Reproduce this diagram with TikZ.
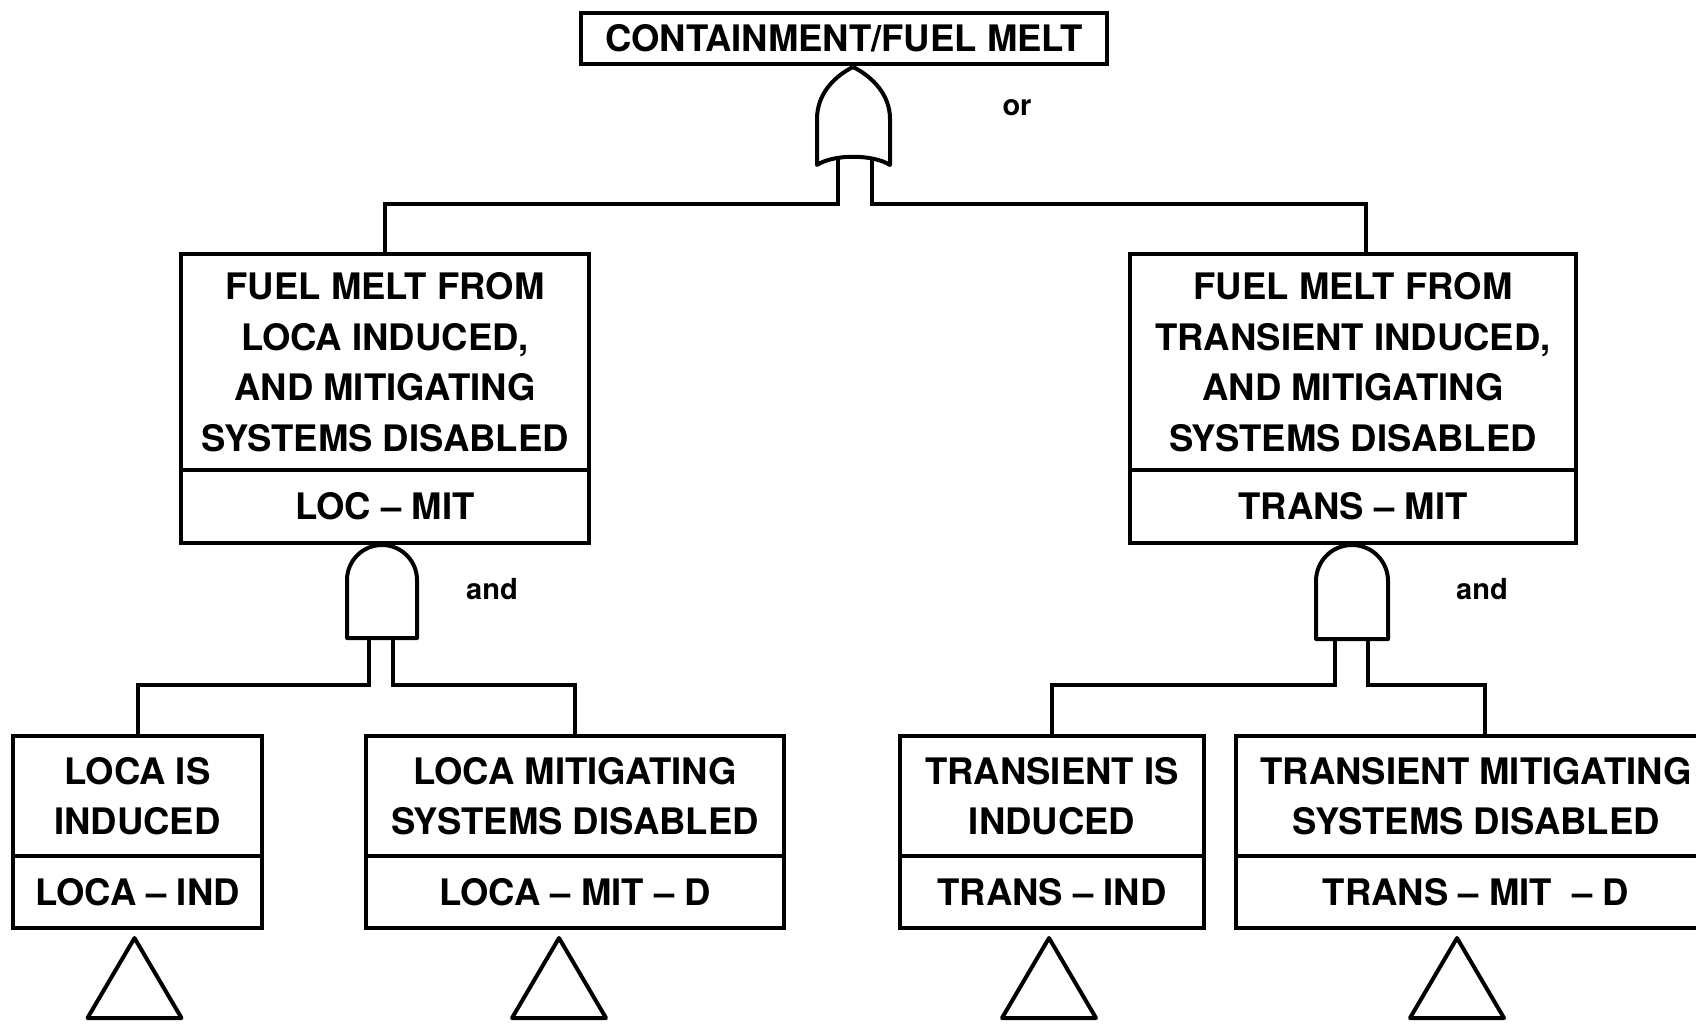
\documentclass[tikz,border=0pt]{standalone}
\usepackage{fontspec}
\setmainfont{TeX Gyre Heros}
\usetikzlibrary{positioning,calc}
\newcommand{\evtfont}{\bfseries\fontsize{18.25}{25.25}\selectfont}
\newcommand{\gatefont}{\bfseries\fontsize{14.5}{16}\selectfont}

\begin{document}
\begin{tikzpicture}[x=0.5pt, y=-0.5pt,
        evt/.style={draw, line width=2pt, outer sep=0pt, inner sep=0pt, align=center, font=\evtfont},
        gate/.style={draw, line width=2pt, line join=round},
        wire/.style={draw, line width=2pt},
        gatelbl/.style={font=\gatefont},
    ]
    \useasboundingbox (0,0) rectangle (1696,1025);

    % Top event
    \node[evt, minimum width=263pt, minimum height=25.5pt] (top) at (844,38.5) {CONTAINMENT/FUEL MELT};

    % OR gate
    \begin{scope}[shift={(853,67)}]
        \draw[gate] (0,0) .. controls (-20,10) and (-36,28) .. (-36,52) -- (-36,98)
            .. controls (-20,87) and (20,87) .. (37,98) -- (37,52)
            .. controls (37,28) and (20,10) .. (0,0);
        \coordinate (orl) at (-15,91);
        \coordinate (orr) at (19,91);
    \end{scope}
    \node[gatelbl] (orlbl) at (1017,108) {or};

    % Intermediate events
    \node[evt, minimum width=204pt, minimum height=108pt] (lmid) at (385,362)
        {FUEL MELT FROM\\LOCA INDUCED,\\AND MITIGATING\\SYSTEMS DISABLED};
    \node[evt, minimum width=204pt, minimum height=36.5pt, below=0pt of lmid] (lmidid) {LOC -- MIT};
    \node[evt, minimum width=223pt, minimum height=108pt] (rmid) at (1353,362)
        {FUEL MELT FROM\\TRANSIENT INDUCED,\\AND MITIGATING\\SYSTEMS DISABLED};
    \node[evt, minimum width=223pt, minimum height=36.5pt, below=0pt of rmid] (rmidid) {TRANS -- MIT};

    \draw[wire] (orl) -- ++(0,46) -| (lmid.north);
    \draw[wire] (orr) -- ++(0,46) -| ($(rmid.north)+(13,0)$);

    % AND gates
    \begin{scope}[shift={(382,545)}]
        \draw[gate] (-35,93) -- (-35,35) .. controls (-35,15.7) and (-19.3,0) .. (0,0)
            .. controls (19.3,0) and (35,15.7) .. (35,35) -- (35,93) -- cycle;
        \coordinate (andll) at (-13,93);
        \coordinate (andlr) at (11,93);
    \end{scope}
    \node[gatelbl] (andllbl) at (492,589) {and};

    \begin{scope}[shift={(1352,545)}]
        \draw[gate] (-36,94) -- (-36,36) .. controls (-36,16) and (-19.9,0) .. (0,0)
            .. controls (19.9,0) and (36,16) .. (36,36) -- (36,94) -- cycle;
        \coordinate (andrl) at (-17,94);
        \coordinate (andrr) at (16,94);
    \end{scope}
    \node[gatelbl] (andrlbl) at (1482,589) {and};

    % Basic events
    \node[evt, minimum width=124.5pt, minimum height=60pt] (lis) at (137.5,796) {LOCA IS\\INDUCED};
    \node[evt, minimum width=124.5pt, minimum height=36pt, below=0pt of lis] (lisid) {LOCA -- IND};
    \node[evt, minimum width=209pt, minimum height=60pt] (lmit) at (575,796) {LOCA MITIGATING\\SYSTEMS DISABLED};
    \node[evt, minimum width=209pt, minimum height=36pt, below=0pt of lmit] (lmitid) {LOCA -- MIT -- D};
    \node[evt, minimum width=152pt, minimum height=60pt] (tis) at (1052,796) {TRANSIENT IS\\INDUCED};
    \node[evt, minimum width=152pt, minimum height=36pt, below=0pt of tis] (tisid) {TRANS -- IND};
    \node[evt, minimum width=240pt, minimum height=60pt] (tmit) at (1476,796) {TRANSIENT MITIGATING\\SYSTEMS DISABLED};
    \node[evt, minimum width=240pt, minimum height=36pt, below=0pt of tmit] (tmitid) {TRANS -- MIT\ \ -- D};

    \draw[wire] (andll) -- ++(0,47) -| (lis.north);
    \draw[wire] (andlr) -- ++(0,47) -| (lmit.north);
    \draw[wire] (andrl) -- ++(0,46) -| (tis.north);
    \draw[wire] (andrr) -- ++(0,46) -| ($(tmit.north)+(9,0)$);

    % Transfer triangles
    \draw[gate] ($(lisid.south)+(-3,10)$) -- ++(-47,80) -- ++(94,0) -- cycle;
    \draw[gate] ($(lmitid.south)+(-16,10)$) -- ++(-47,80) -- ++(94,0) -- cycle;
    \draw[gate] ($(tisid.south)+(-3,10)$) -- ++(-47,80) -- ++(94,0) -- cycle;
    \draw[gate] ($(tmitid.south)+(-19,10)$) -- ++(-47,80) -- ++(94,0) -- cycle;
\end{tikzpicture}
\end{document}
